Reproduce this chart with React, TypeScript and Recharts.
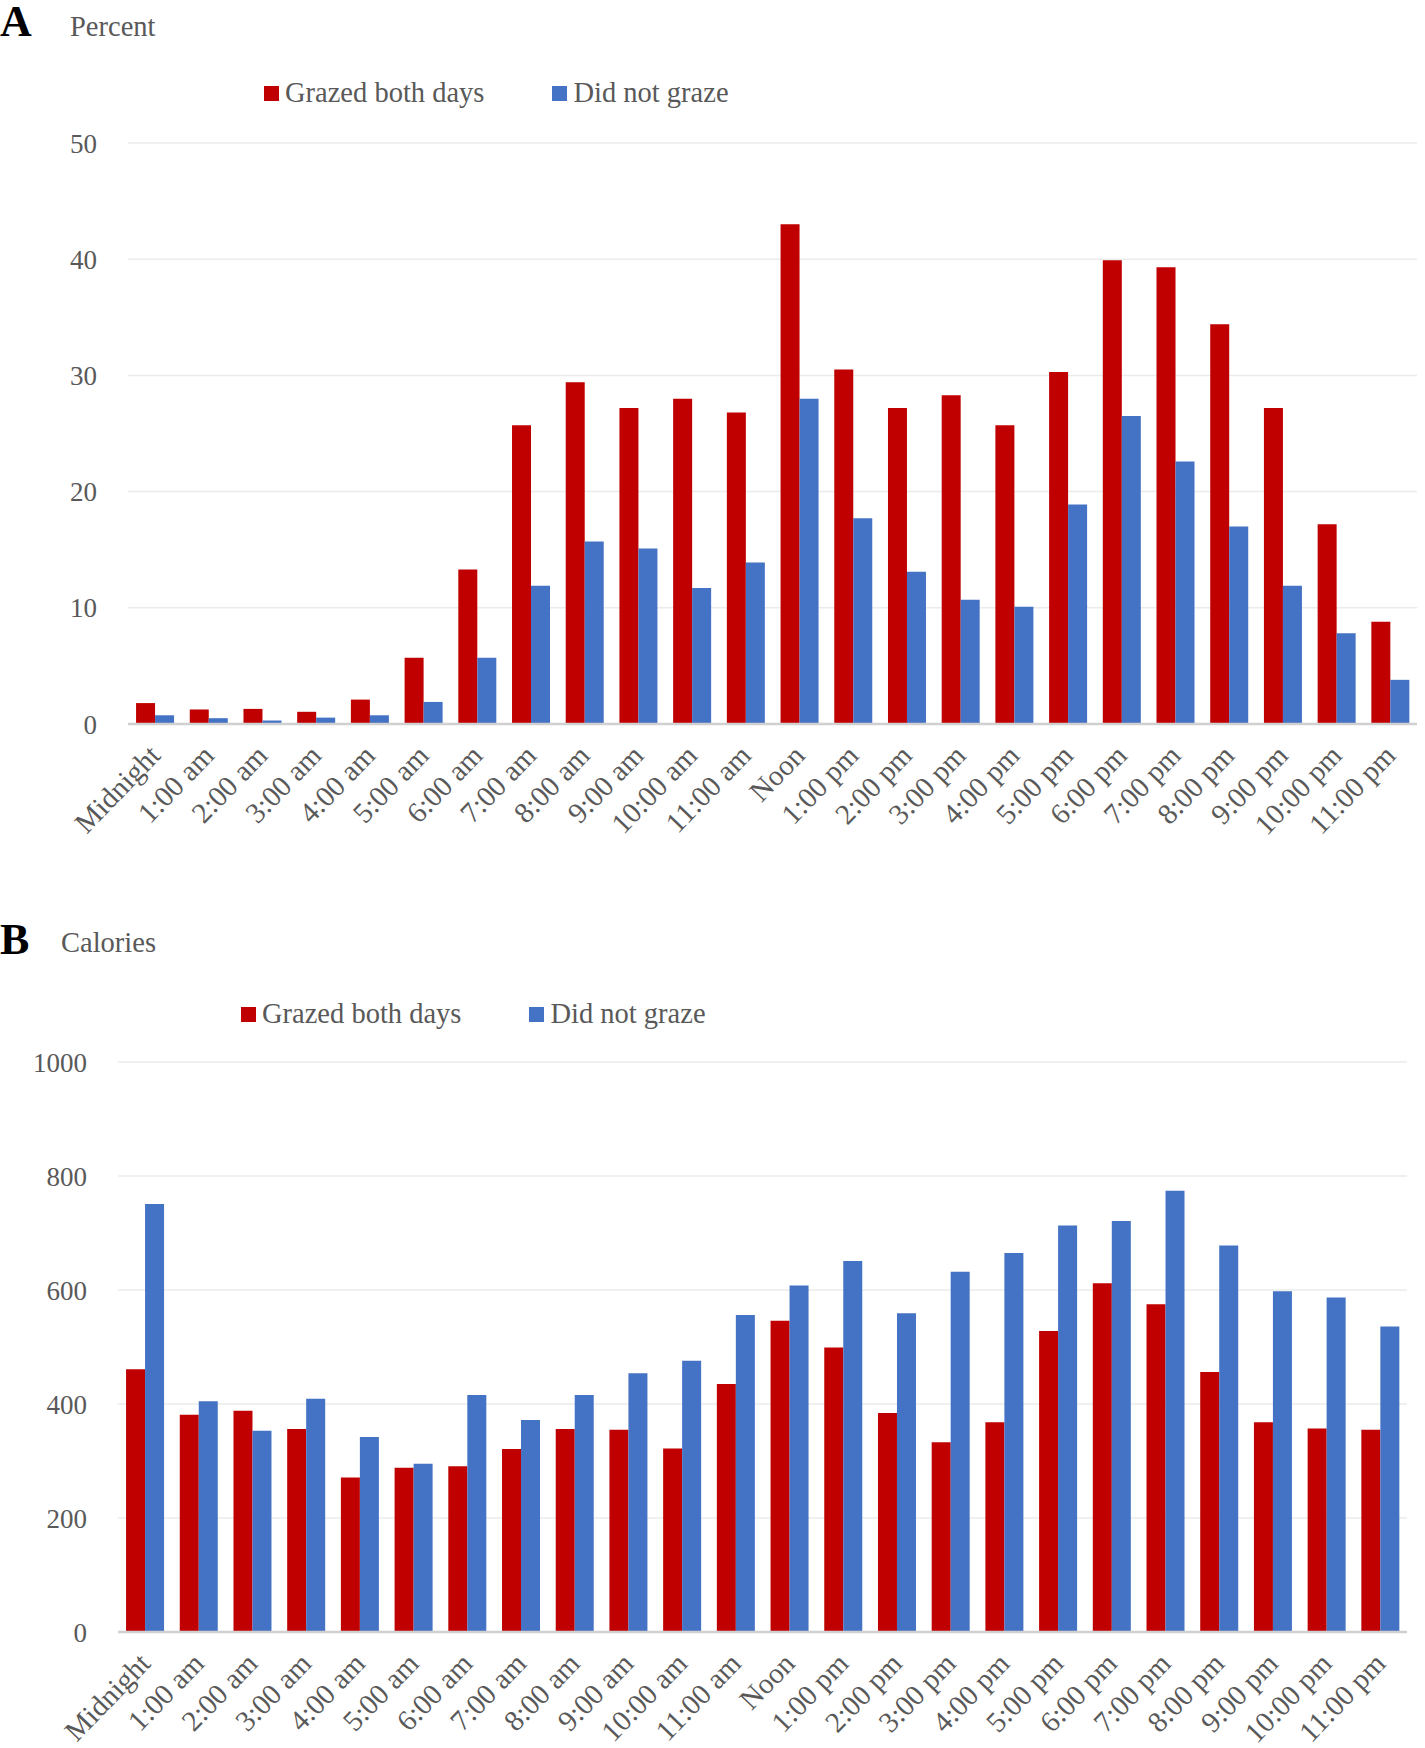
import React from 'react';
import { BarChart, Bar, XAxis, YAxis, CartesianGrid, Legend } from 'recharts';

const hours = [
  'Midnight', '1:00 am', '2:00 am', '3:00 am', '4:00 am', '5:00 am', '6:00 am', '7:00 am',
  '8:00 am', '9:00 am', '10:00 am', '11:00 am', 'Noon', '1:00 pm', '2:00 pm', '3:00 pm',
  '4:00 pm', '5:00 pm', '6:00 pm', '7:00 pm', '8:00 pm', '9:00 pm', '10:00 pm', '11:00 pm',
];

const percentGrazed = [1.8, 1.25, 1.3, 1.05, 2.1, 5.7, 13.3, 25.7, 29.4, 27.2, 28.0, 26.8, 43.0, 30.5, 27.2, 28.3, 25.7, 30.3, 39.9, 39.3, 34.4, 27.2, 17.2, 8.8];
const percentNoGraze = [0.75, 0.5, 0.3, 0.55, 0.75, 1.9, 5.7, 11.9, 15.7, 15.1, 11.7, 13.9, 28.0, 17.7, 13.1, 10.7, 10.1, 18.9, 26.5, 22.6, 17.0, 11.9, 7.8, 3.8];

const caloriesGrazed = [461, 381, 388, 356, 271, 288, 291, 321, 356, 355, 322, 435, 546, 499, 384, 333, 368, 528, 612, 575, 456, 368, 357, 355];
const caloriesNoGraze = [751, 405, 353, 409, 342, 295, 416, 372, 416, 454, 476, 556, 608, 651, 559, 632, 665, 713, 721, 774, 678, 598, 587, 536];

const percentTicks = [0, 10, 20, 30, 40, 50];
const calorieTicks = [0, 200, 400, 600, 800, 1000];

const seriesNames = ['Grazed both days', 'Did not graze'];

const RED = '#C00000';
const BLUE = '#4472C4';
const TEXT = '#595959';
const FONT = '"Liberation Serif", "Times New Roman", serif';

const percentData = hours.map((h, i) => ({ hour: h, grazed: percentGrazed[i], nograze: percentNoGraze[i] }));
const caloriesData = hours.map((h, i) => ({ hour: h, grazed: caloriesGrazed[i], nograze: caloriesNoGraze[i] }));

function RotTick(props: any) {
  const { x, y, payload } = props;
  const ax = x + 7;
  const ay = y + 25;
  return (
    <text
      x={ax}
      y={ay}
      transform={`rotate(-46, ${ax}, ${ay})`}
      textAnchor="end"
      fill={TEXT}
      fontFamily={FONT}
      fontSize={29}
    >
      {payload.value}
    </text>
  );
}

function LegendContent(props: any) {
  const payload = [...(props.payload || [])].sort(
    (a: any, b: any) => seriesNames.indexOf(a.value) - seriesNames.indexOf(b.value)
  );
  return (
    <div style={{ display: 'flex', alignItems: 'center', fontFamily: FONT, fontSize: 28.5, color: TEXT, whiteSpace: 'nowrap' }}>
      {payload.map((p: any, i: number) => (
        <div key={i} style={{ display: 'flex', alignItems: 'center', marginRight: i === 0 ? 68 : 0 }}>
          <div style={{ width: 15, height: 15, background: p.color, marginRight: 6 }} />
          <span>{p.value}</span>
        </div>
      ))}
    </div>
  );
}

type PanelProps = {
  data: any[];
  ticks: number[];
  max: number;
  width: number;
  height: number;
  yWidth: number;
  margin: { top: number; right: number; bottom: number; left: number };
  xHeight: number;
  legendTop: number;
  legendLeft: number;
};

function Panel(p: PanelProps) {
  return (
    <BarChart
      width={p.width}
      height={p.height}
      data={p.data}
      margin={p.margin}
      barCategoryGap="15%"
      barGap={0}
      style={{ overflow: 'visible' }}
    >
      <CartesianGrid vertical={false} stroke="#EBEBEB" strokeWidth={1.5} />
      <XAxis
        dataKey="hour"
        interval={0}
        tick={<RotTick />}
        tickLine={false}
        axisLine={{ stroke: '#D0D0D0', strokeWidth: 2.5 }}
        height={p.xHeight}
      />
      <YAxis
        width={p.yWidth}
        domain={[0, p.max]}
        ticks={p.ticks}
        tickLine={false}
        axisLine={false}
        tickMargin={25}
        tick={{ fill: TEXT, fontFamily: FONT, fontSize: 27 }}
      />
      <Legend
        layout="vertical"
        align="center"
        verticalAlign="middle"
        content={<LegendContent />}
        wrapperStyle={{ top: p.legendTop, left: p.legendLeft, width: 'auto', height: 'auto' }}
      />
      <Bar dataKey="grazed" name={seriesNames[0]} fill={RED} isAnimationActive={false} />
      <Bar dataKey="nograze" name={seriesNames[1]} fill={BLUE} isAnimationActive={false} />
    </BarChart>
  );
}

export default function App() {
  return (
    <div style={{ position: 'absolute', left: 0, top: 0, width: 1425, height: 1748, background: '#fff', fontFamily: FONT }}>
      <div style={{ position: 'absolute', left: 0, top: 0 }}>
        <Panel
          data={percentData}
          ticks={percentTicks}
          max={50}
          width={1425}
          height={870}
          yWidth={128}
          margin={{ top: 143, right: 8, bottom: 0, left: 0 }}
          xHeight={146}
          legendTop={77}
          legendLeft={264}
        />
      </div>
      <div style={{ position: 'absolute', left: 0, top: 830 }}>
        <Panel
          data={caloriesData}
          ticks={calorieTicks}
          max={1000}
          width={1425}
          height={918}
          yWidth={118}
          margin={{ top: 232, right: 18, bottom: 0, left: 0 }}
          xHeight={116}
          legendTop={168}
          legendLeft={241}
        />
      </div>
      <div style={{ position: 'absolute', left: 0, top: -4, fontSize: 44, fontWeight: 'bold', color: '#000' }}>A</div>
      <div style={{ position: 'absolute', left: 70, top: 11, fontSize: 28.5, color: TEXT }}>Percent</div>
      <div style={{ position: 'absolute', left: 0, top: 914, fontSize: 44, fontWeight: 'bold', color: '#000' }}>B</div>
      <div style={{ position: 'absolute', left: 61, top: 927, fontSize: 28.5, color: TEXT }}>Calories</div>
    </div>
  );
}
